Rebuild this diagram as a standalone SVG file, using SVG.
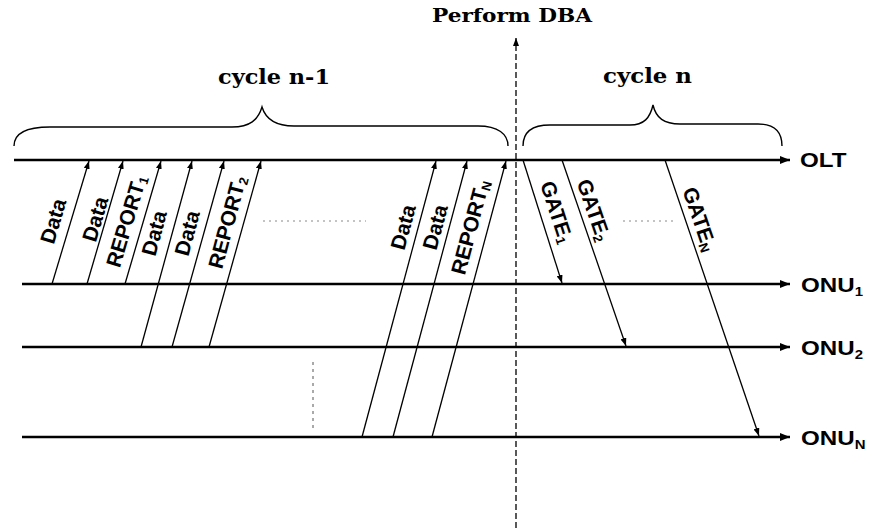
<svg xmlns="http://www.w3.org/2000/svg" width="872" height="528" viewBox="0 0 872 528">
  <style>
    .axis { stroke: #000; stroke-width: 2.6; fill: none; }
    .msg { stroke: #000; stroke-width: 1.3; fill: none; }
    .brace { stroke: #000; stroke-width: 1.4; fill: none; }
    .dots { stroke: #888; stroke-width: 1; stroke-dasharray: 2 4; fill: none; }
    .dba { stroke: #000; stroke-width: 1.3; stroke-dasharray: 6 3; fill: none; }
    .head { font-family: "DejaVu Serif", "Liberation Serif", serif; font-weight: bold; fill: #000; }
    .lane { font-family: "Liberation Sans", Arial, sans-serif; font-weight: bold; font-size: 21px; fill: #000; }
    .lab { font-family: "Liberation Sans", Arial, sans-serif; font-weight: bold; font-size: 21px; fill: #000; text-anchor: middle; dominant-baseline: central; }
    .sub { font-size: 13px; }
  </style>
  <defs>
    <marker id="bigHead" viewBox="0 0 10 8" refX="10" refY="4" markerWidth="10" markerHeight="8" markerUnits="userSpaceOnUse" orient="auto">
      <path d="M0,0 L10,4 L0,8 z" fill="#000"/>
    </marker>
    <marker id="smallHead" viewBox="0 0 8 6" refX="8" refY="3" markerWidth="8" markerHeight="6" markerUnits="userSpaceOnUse" orient="auto">
      <path d="M0,0 L8,3 L0,6 z" fill="#000"/>
    </marker>
  </defs>

  <rect width="872" height="528" fill="#fff"/>

  <!-- DBA instant -->
  <g id="dba">
    <line class="dba" x1="516" y1="528" x2="516" y2="38" marker-end="url(#smallHead)"/>
    <text class="head" x="432" y="22" font-size="18" textLength="160" lengthAdjust="spacingAndGlyphs">Perform DBA</text>
  </g>

  <!-- cycle braces -->
  <g id="cycle-prev">
    <path class="brace" d="M14,146 C14,134 26,127 50,127 L232,127 C250,127 258,120 262,107 C266,120 276,126 294,126 L478,126 C498,126 508,134 508,146"/>
    <text class="head" x="218" y="84" font-size="20" textLength="112" lengthAdjust="spacingAndGlyphs">cycle n-1</text>
  </g>
  <g id="cycle-cur">
    <path class="brace" d="M523,146 C523,133 531,125 550,125 L630,125 C644,125 650,118 653,105 C656,118 664,124 680,124 L758,124 C775,124 782,133 782,146"/>
    <text class="head" x="603" y="83" font-size="20" textLength="89" lengthAdjust="spacingAndGlyphs">cycle n</text>
  </g>

  <!-- time axes -->
  <g id="olt">
    <line class="axis" x1="14" y1="160" x2="790" y2="160" marker-end="url(#bigHead)"/>
    <text class="lane" transform="translate(800,167) scale(1.15,1)">OLT</text>
  </g>
  <g id="onu1">
    <line class="axis" x1="22" y1="284" x2="790" y2="284" marker-end="url(#bigHead)"/>
    <text class="lane" transform="translate(801,292) scale(1.15,1)">ONU<tspan class="sub" dy="4">1</tspan></text>
  </g>
  <g id="onu2">
    <line class="axis" x1="22" y1="347" x2="790" y2="347" marker-end="url(#bigHead)"/>
    <text class="lane" transform="translate(801,355) scale(1.15,1)">ONU<tspan class="sub" dy="4">2</tspan></text>
  </g>
  <g id="onuN">
    <line class="axis" x1="22" y1="437" x2="790" y2="437" marker-end="url(#bigHead)"/>
    <text class="lane" transform="translate(801,445) scale(1.15,1)">ONU<tspan class="sub" dy="4">N</tspan></text>
  </g>

  <!-- upstream and downstream messages -->
  <g id="connectors">
    <line class="msg" x1="52" y1="284" x2="89" y2="161" marker-end="url(#smallHead)"/>
    <line class="msg" x1="87" y1="284" x2="123" y2="161" marker-end="url(#smallHead)"/>
    <line class="msg" x1="125" y1="284" x2="161" y2="161" marker-end="url(#smallHead)"/>
    <line class="msg" x1="141" y1="347" x2="192" y2="161" marker-end="url(#smallHead)"/>
    <line class="msg" x1="172" y1="347" x2="224" y2="161" marker-end="url(#smallHead)"/>
    <line class="msg" x1="209" y1="347" x2="261" y2="161" marker-end="url(#smallHead)"/>
    <line class="msg" x1="362" y1="437" x2="436" y2="161" marker-end="url(#smallHead)"/>
    <line class="msg" x1="393" y1="437" x2="467" y2="161" marker-end="url(#smallHead)"/>
    <line class="msg" x1="432" y1="437" x2="506" y2="161" marker-end="url(#smallHead)"/>
    <line class="msg" x1="523" y1="160" x2="562" y2="283" marker-end="url(#smallHead)"/>
    <line class="msg" x1="562" y1="160" x2="626" y2="346" marker-end="url(#smallHead)"/>
    <line class="msg" x1="665" y1="160" x2="759" y2="436" marker-end="url(#smallHead)"/>

    <!-- omitted ONUs -->
    <line class="dots" x1="263" y1="221" x2="366" y2="221"/>
    <line class="dots" x1="623" y1="221" x2="673" y2="221"/>
    <line x1="313" y1="362" x2="313" y2="430" stroke="#555" stroke-width="1" stroke-dasharray="3 4"/>
  </g>

  <!-- message labels -->
  <g id="labels">
    <text class="lab" transform="translate(53,221) rotate(-73.5)">Data</text>
    <text class="lab" transform="translate(95,219) rotate(-73.5)">Data</text>
    <text class="lab" transform="translate(126,221) rotate(-73.5)">REPORT<tspan class="sub" dy="5">1</tspan></text>
    <text class="lab" transform="translate(154,233) rotate(-75)">Data</text>
    <text class="lab" transform="translate(187,233) rotate(-75)">Data</text>
    <text class="lab" transform="translate(227,222) rotate(-75)">REPORT<tspan class="sub" dy="5">2</tspan></text>
    <text class="lab" transform="translate(403,227) rotate(-75)">Data</text>
    <text class="lab" transform="translate(435,227) rotate(-75)">Data</text>
    <text class="lab" transform="translate(470,227) rotate(-75)">REPORT<tspan class="sub" dy="5">N</tspan></text>
    <text class="lab" transform="translate(557,212) rotate(72)">GATE<tspan class="sub" dy="5">1</tspan></text>
    <text class="lab" transform="translate(594,210) rotate(71)">GATE<tspan class="sub" dy="5">2</tspan></text>
    <text class="lab" transform="translate(700,219) rotate(71)">GATE<tspan class="sub" dy="5">N</tspan></text>
  </g>
</svg>
